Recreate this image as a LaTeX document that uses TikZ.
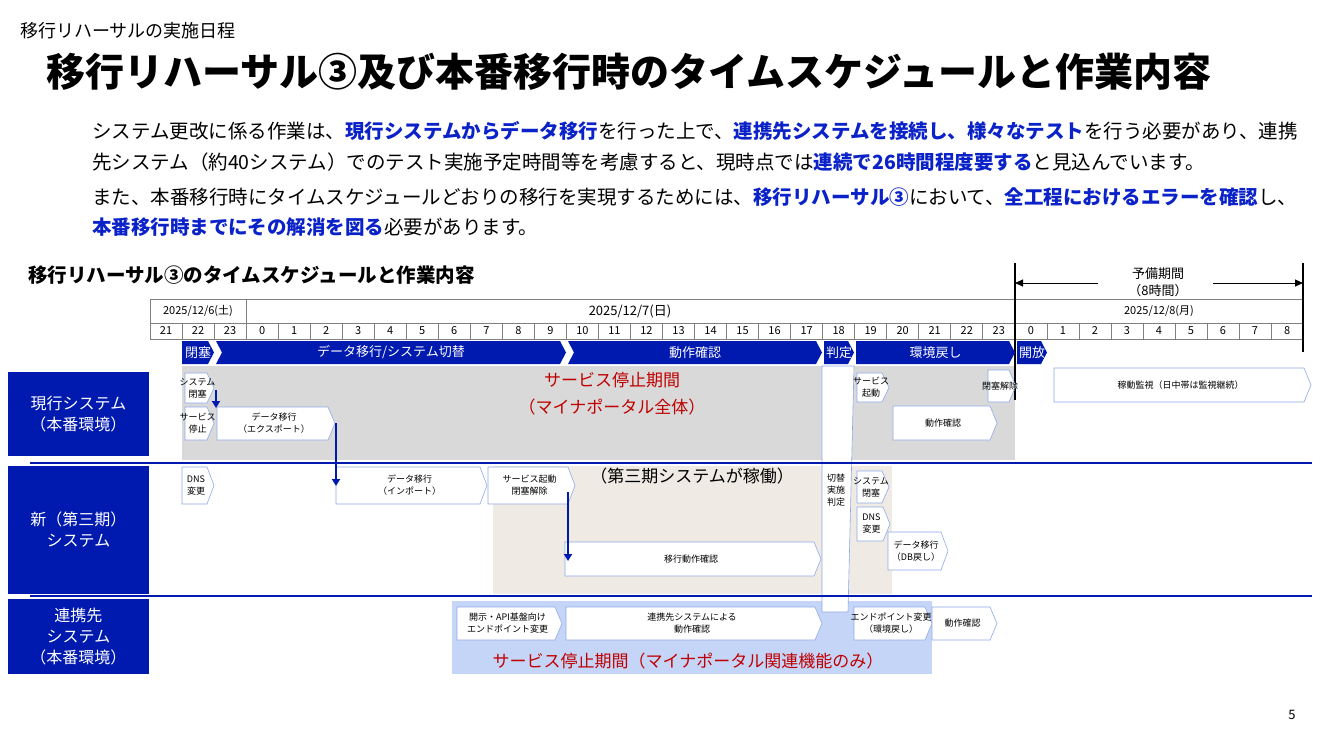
\documentclass[tikz,border=0pt]{standalone}
\usepackage{fontspec}
\setmainfont{Noto Sans CJK JP}
\usetikzlibrary{arrows.meta}
\definecolor{navy}{HTML}{0019AF}
\definecolor{emb}{HTML}{0A22C8}
\definecolor{gfill}{HTML}{D9D9D9}
\definecolor{beige}{HTML}{EFEBE4}
\definecolor{lbfill}{HTML}{C5D5F7}
\definecolor{lbd}{HTML}{8EA9E8}
\definecolor{rd}{HTML}{C00000}
\definecolor{gridc}{HTML}{808080}
\newcommand\fs[1]{\fontsize{#1}{#1}\selectfont}
\newcommand\fsb[2]{\fontsize{#1}{#2}\selectfont}
\newcommand\B[1]{{\bfseries\color{emb}#1}}
\tikzset{
  small/.style={font=\fsb{9}{12}, align=center, inner sep=0pt},
  pentline/.style={draw=lbd, fill=white, line width=0.6pt},
  chevfill/.style={fill=navy},
  lanebox/.style={fill=navy, text=white, font=\fsb{16}{21}, align=center},
  bluearrow/.style={draw=navy, line width=2pt, -{Triangle[length=7pt,width=8pt]}},
  sep/.style={draw=navy, line width=1.2pt},
  cell/.style={draw=gridc, line width=0.6pt},
}
\newcommand\pent[6]{%
  \draw[pentline] (#1,#2) -- ({#3-7},#2) -- (#3,{(#2+#4)/2}) -- ({#3-7},#4) -- (#1,#4) -- cycle;
  \node[small] (#6) at ({(#1+#3)/2-2},{(#2+#4)/2}) {#5};}
\newcommand\chev[5]{%
  \fill[chevfill] (#1,341) -- ({#2-6},341) -- (#2,352.5) -- ({#2-6},364) -- (#1,364) -- ({#1+#3},352.5) -- cycle;
  \node[text=white, font=\fs{13}, inner sep=0pt] (#5) at ({(#1+#2)/2},352.5) {#4};}
\begin{document}
\begin{tikzpicture}[x=1pt,y=-1pt]
\useasboundingbox (0,0) rectangle (1334,750);
\fill[white] (0,0) rectangle (1334,750);
\node[anchor=west, font=\fs{18}, inner sep=0pt] (sub) at (20,31) {移行リハーサルの実施日程};
\node[anchor=west, font=\fs{39}\bfseries, inner sep=0pt] (title) at (46,72) {移行リハーサル③及び本番移行時のタイムスケジュールと作業内容};
\node[anchor=west, font=\fs{19.5}, inner sep=0pt] (p1) at (92,131) {システム更改に係る作業は、\B{現行システムからデータ移行}を行った上で、\B{連携先システムを接続し、様々なテスト}を行う必要があり、連携};
\node[anchor=west, font=\fs{19.5}, inner sep=0pt] (p2) at (92,162) {先システム（約40システム）でのテスト実施予定時間等を考慮すると、現時点では\B{連続で26時間程度要する}と見込んでいます。};
\node[anchor=west, font=\fs{19.5}, inner sep=0pt] (p3) at (92,197) {また、本番移行時にタイムスケジュールどおりの移行を実現するためには、\B{移行リハーサル③}において、\B{全工程におけるエラーを確認}し、};
\node[anchor=west, font=\fs{19.5}, inner sep=0pt] (p4) at (92,227) {\B{本番移行時までにその解消を図る}必要があります。};
\node[anchor=west, font=\fs{19.5}\bfseries, inner sep=0pt] (sec) at (28,275) {移行リハーサル③のタイムスケジュールと作業内容};
\fill[gfill] (182,366) rectangle (1015,460);
\fill[beige] (493,466) rectangle (892,594);
\fill[lbfill] (452,601) rectangle (932,674);
\draw[draw=lbd, fill=white, line width=0.6pt] (822,366) -- (854,366) -- (848,612) -- (822,612) -- cycle;
\draw[cell] (150,299) rectangle (246,323);
\draw[cell] (246,299) rectangle (1015,323);
\draw[cell] (1015,299) rectangle (1303,323);
\node[font=\fs{11}] (d1) at (198,311) {2025/12/6(土)};
\node[font=\fs{13}] (d2) at (630,311) {2025/12/7(日)};
\node[font=\fs{11}] (d3) at (1159,311) {2025/12/8(月)};
\foreach \i in {0,...,35}{
  \pgfmathtruncatemacro\h{mod(\i+21,24)}
  \pgfmathsetmacro\xa{150+32.03*\i}
  \pgfmathsetmacro\xb{150+32.03*(\i+1)}
  \draw[cell] (\xa,323) rectangle (\xb,339);
  \node[font=\fs{11}, inner sep=0pt] (h\i) at ({(\xa+\xb)/2},331) {\h};
}
\draw[line width=1.6pt] (1015,263) -- (1015,400);
\draw[line width=1.2pt] (1303,263) -- (1303,352);
\node[font=\fsb{13}{17}, align=center, inner sep=0pt] (yobi) at (1158,282) {予備期間\\（8時間）};
\coordinate (ylft) at (1015,283);
\coordinate (yrgt) at (1303,283);
\coordinate (yl2) at (1098,283);
\coordinate (yr2) at (1213,283);
\draw[line width=1pt, -{Triangle[length=8pt,width=7pt]}] (yl2) -- (ylft);
\draw[line width=1pt, -{Triangle[length=8pt,width=7pt]}] (yr2) -- (yrgt);
\chev{182}{214}{0}{閉塞}{c1}
\chev{216}{566}{6}{データ移行/システム切替}{c2}
\chev{568}{822}{6}{動作確認}{c3}
\chev{824}{854}{0}{判定}{c4}
\chev{856}{1015}{0}{環境戻し}{c5}
\chev{1017}{1047}{0}{開放}{c6}
\node[lanebox, minimum width=141pt, minimum height=84pt] (L1) at (78.5,414) {現行システム\\（本番環境）};
\node[lanebox, minimum width=141pt, minimum height=128pt] (L2) at (78.5,530) {新（第三期）\\システム};
\node[lanebox, minimum width=141pt, minimum height=75pt] (L3) at (78.5,636.5) {連携先\\システム\\（本番環境）};
\coordinate (s1a) at (30,463); \coordinate (s1b) at (1312,463);
\coordinate (s2a) at (30,596); \coordinate (s2b) at (1312,596);
\draw[sep] (s1a) -- (s1b);
\draw[sep] (s2a) -- (s2b);
\pent{185}{373}{214}{403}{システム\\閉塞}{a1}
\pent{185}{407}{214}{440}{サービス\\停止}{a2}
\pent{217}{407}{335}{440}{データ移行\\（エクスポート）}{a3}
\pent{857}{373}{889}{402}{サービス\\起動}{a4}
\pent{988}{370}{1016}{402}{閉塞解除}{a5}
\pent{893}{406}{997}{440}{動作確認}{a6}
\pent{1054}{368}{1311}{402}{稼動監視（日中帯は監視継続）}{a7}
\node[text=rd, font=\fsb{17}{27}, align=center, inner sep=0pt] (stop1) at (612,394) {サービス停止期間\\（マイナポータル全体）};
\pent{182}{467}{214}{504}{DNS\\変更}{b1}
\pent{336}{467}{487}{504}{データ移行\\（インポート）}{b2}
\pent{488}{467}{575}{504}{サービス起動\\閉塞解除}{b3}
\pent{565}{542}{821}{576}{移行動作確認}{b4}
\pent{857}{471}{889}{503}{システム\\閉塞}{b5}
\pent{857}{507}{890}{541}{DNS\\変更}{b6}
\pent{888}{532}{948}{570}{データ移行\\（DB戻し）}{b7}
\node[small] (hantei) at (836,490) {切替\\実施\\判定};
\node[font=\fs{17}, inner sep=0pt] (third) at (692,476) {（第三期システムが稼働）};
\pent{457}{607}{562}{640}{開示・API基盤向け\\エンドポイント変更}{e1}
\pent{566}{607}{822}{640}{連携先システムによる\\動作確認}{e2}
\pent{854}{607}{932}{640}{エンドポイント変更\\（環境戻し）}{e3}
\pent{932}{607}{997}{640}{動作確認}{e4}
\node[text=rd, font=\fs{17}, inner sep=0pt] (stop2) at (688,661) {サービス停止期間（マイナポータル関連機能のみ）};
\coordinate (ar1a) at (216,390); \coordinate (ar1b) at (216,408);
\coordinate (ar2a) at (336,423); \coordinate (ar2b) at (336,486);
\coordinate (ar3a) at (568,492); \coordinate (ar3b) at (568,561);
\draw[bluearrow] (ar1a) -- (ar1b);
\draw[bluearrow] (ar2a) -- (ar2b);
\draw[bluearrow] (ar3a) -- (ar3b);
\node[font=\fs{13}] (pg) at (1292,715) {5};
\end{tikzpicture}
\end{document}
